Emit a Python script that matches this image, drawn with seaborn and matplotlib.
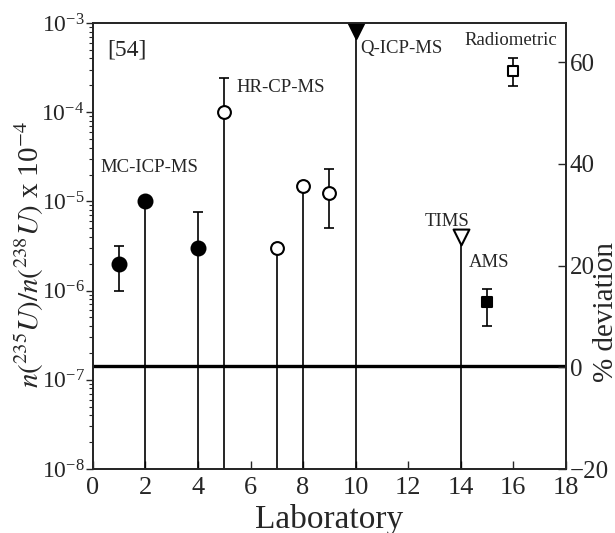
import numpy as np
import pandas as pd
import seaborn as sns
import matplotlib.pyplot as plt

# data
labs = [1, 2, 4, 5, 7, 8, 9, 10, 14, 15, 16]
ratio = [2.0e-6, 1.0e-5, 3.0e-6, 1.0e-4, 3.0e-6, 1.5e-5, 1.25e-5, 8.3e-4, 4.0e-6, 7.5e-7, 2.9e-4]
method = ['MC-ICP-MS', 'MC-ICP-MS', 'MC-ICP-MS', 'HR-CP-MS', 'HR-CP-MS', 'HR-CP-MS',
          'HR-CP-MS', 'Q-ICP-MS', 'TIMS', 'AMS', 'Radiometric']
# error bar bounds (nan = no bar on that side)
err_lo = [1.0e-6, np.nan, np.nan, np.nan, np.nan, np.nan, 5.0e-6, np.nan, np.nan, 4.0e-7, 1.95e-4]
err_hi = [3.2e-6, np.nan, 7.6e-6, 2.4e-4, np.nan, np.nan, 2.3e-5, np.nan, np.nan, 1.05e-6, 4.0e-4]
stem_labs = [2, 4, 5, 7, 8, 10, 14]
reference_value = 1.43e-7

method_labels = ['[54]', 'MC-ICP-MS', 'HR-CP-MS', 'Q-ICP-MS', 'Radiometric', 'TIMS', 'AMS']
label_x = [0.53, 0.27, 5.48, 10.16, 14.15, 12.63, 14.3]
label_y = [5.0e-4, 2.37e-5, 1.87e-4, 5.2e-4, 6.4e-4, 5.9e-6, 2.04e-6]

df = pd.DataFrame({'lab': labs, 'ratio': ratio, 'method': method,
                   'lo': err_lo, 'hi': err_hi})

sns.set_style('ticks')
plt.rcParams['font.family'] = ['Liberation Serif', 'DejaVu Serif']
plt.rcParams['mathtext.fontset'] = 'stix'

fig = plt.figure(figsize=(6.15, 5.33), dpi=100)
ax = fig.add_axes([0.151, 0.120, 0.769, 0.837])

ax.set_yscale('log')
ax.set_xlim(0, 18)
ax.set_ylim(1e-8, 1e-3)

# reference line (0 % deviation)
ax.axhline(reference_value, color='black', lw=2.4, zorder=2)

# stems from the bottom of the plot up to the point
stems = df[df['lab'].isin(stem_labs)]
ax.vlines(stems['lab'], 1e-8, stems['ratio'], color='black', lw=1.2, zorder=2)

# error bars
for _, r in df.iterrows():
    lo = r['ratio'] - r['lo'] if not np.isnan(r['lo']) else 0
    hi = r['hi'] - r['ratio'] if not np.isnan(r['hi']) else 0
    if lo == 0 and hi == 0:
        continue
    ax.errorbar(r['lab'], r['ratio'], yerr=[[lo], [hi]], fmt='none',
                ecolor='black', elinewidth=1.2, capsize=3.5, capthick=1.2, zorder=3)

styles = {
    'MC-ICP-MS': ('o', 'black', 100),
    'HR-CP-MS': ('o', 'white', 85),
    'Q-ICP-MS': ('v', 'black', 150),
    'TIMS': ('v', 'white', 130),
    'AMS': ('s', 'black', 60),
    'Radiometric': ('s', 'white', 50),
}
for m, (mk, fc, sz) in styles.items():
    sub = df[df['method'] == m]
    sns.scatterplot(data=sub, x='lab', y='ratio', marker=mk, s=sz, color=fc,
                    edgecolor='black', linewidth=1.5, ax=ax, zorder=4, legend=False)

for t, x, y in zip(method_labels, label_x, label_y):
    fs = 17 if t == '[54]' else 13.5
    ax.text(x, y, t, fontsize=fs, ha='left', va='center')

ax.set_xticks(range(0, 19, 2))
ax.tick_params(axis='x', direction='in', length=6, width=1, labelsize=19, pad=6)
ax.tick_params(axis='y', which='major', direction='out', length=5, width=1, labelsize=17, pad=1)
ax.tick_params(axis='y', which='minor', direction='out', length=3, width=0.8)
ax.set_xlabel('Laboratory', fontsize=24, labelpad=3)
ax.set_ylabel(r'$n(^{235}U)/n(^{238}U)$ x 10$^{-4}$', fontsize=21)
ax.yaxis.set_label_coords(-0.1, 0.48)
ax.set_ylim(1e-8, 1e-3)

for sp in ax.spines.values():
    sp.set_linewidth(1.3)

ax2 = ax.twinx()
ax2.set_ylim(-20, 67.7)
ax2.set_yticks([-20, 0, 20, 40, 60])
ax2.tick_params(axis='y', direction='in', length=6, width=1, labelsize=18, pad=3)
ax2.set_ylabel('% deviation', fontsize=21)
ax2.yaxis.set_label_coords(1.057, 0.352)
for sp in ax2.spines.values():
    sp.set_linewidth(1.3)

sns.despine(ax=ax, top=False, right=False)
fig.savefig('out.png', dpi=100)
